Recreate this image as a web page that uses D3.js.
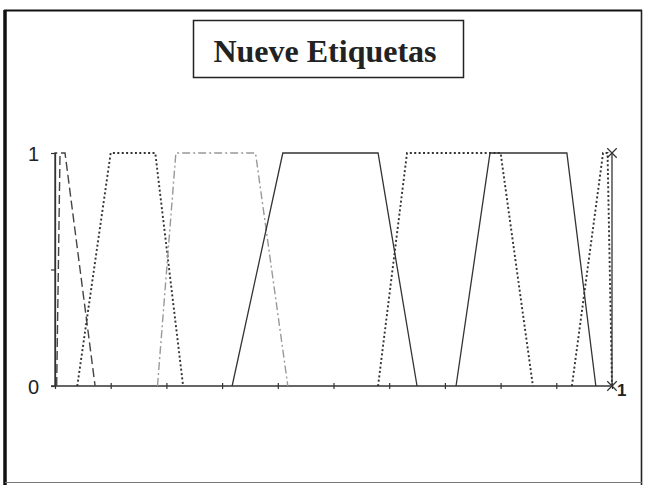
<!DOCTYPE html>
<html>
<head>
<meta charset="utf-8">
<script src="https://cdn.jsdelivr.net/npm/d3@7"></script>
<style>
  html, body { margin: 0; padding: 0; background: #fff; }
  svg { display: block; }
</style>
</head>
<body>
<svg id="chart" width="650" height="485"></svg>
<script>
// ---- data ----
const title = "Nueve Etiquetas";
const yTickValues = [0, 0.5, 1];
const yTickLabels = ["0", "", "1"];
const xTickValues = [0, 0.1, 0.2, 0.3, 0.4, 0.5, 0.6, 0.7, 0.8, 0.9, 1];
const endLabel = "1";

// nine trapezoidal membership functions: [x, membership]
const etiqueta1 = [[0, 0], [0, 1], [0.004, 1]];
const etiqueta2 = [[0.003, 0], [0.009, 1], [0.018, 1], [0.072, 0]];
const etiqueta3 = [[0.04, 0], [0.1, 1], [0.18, 1], [0.23, 0]];
const etiqueta4 = [[0.184, 0], [0.217, 1], [0.36, 1], [0.418, 0]];
const etiqueta5 = [[0.318, 0], [0.409, 1], [0.58, 1], [0.65, 0]];
const etiqueta6 = [[0.58, 0], [0.632, 1], [0.8, 1], [0.858, 0]];
const etiqueta7 = [[0.72, 0], [0.781, 1], [0.919, 1], [0.971, 0]];
const etiqueta8 = [[0.928, 0], [0.984, 1], [0.992, 1], [1, 0]];
const etiqueta9 = [[1, 0], [1, 1]];

const series = [etiqueta1, etiqueta2, etiqueta3, etiqueta4, etiqueta5,
                etiqueta6, etiqueta7, etiqueta8, etiqueta9];

// ---- styles ----
const styles = [
  { stroke: "#333", width: 1.3, dash: null },
  { stroke: "#444", width: 1.4, dash: "9,4" },
  { stroke: "#333", width: 1.9, dash: "2,2.4" },
  { stroke: "#999", width: 1.4, dash: "8,3,2,3" },
  { stroke: "#333", width: 1.3, dash: null },
  { stroke: "#333", width: 1.9, dash: "2,2.4" },
  { stroke: "#333", width: 1.3, dash: null },
  { stroke: "#333", width: 1.9, dash: "2,2.4" },
  { stroke: "#333", width: 1.3, dash: null }
];

const svg = d3.select("#chart");

// outer frame
svg.append("line").attr("x1", 5).attr("x2", 5).attr("y1", 10).attr("y2", 485)
  .attr("stroke", "#111").attr("stroke-width", 3.5);
svg.append("line").attr("x1", 4).attr("x2", 642).attr("y1", 10.5).attr("y2", 10.5)
  .attr("stroke", "#111").attr("stroke-width", 2.2);
svg.append("line").attr("x1", 641.5).attr("x2", 641.5).attr("y1", 10).attr("y2", 485)
  .attr("stroke", "#222").attr("stroke-width", 1.6);
svg.append("line").attr("x1", 5).attr("x2", 642).attr("y1", 482.5).attr("y2", 482.5)
  .attr("stroke", "#777").attr("stroke-width", 1);

// title box
svg.append("rect").attr("x", 193.5).attr("y", 20.5).attr("width", 270).attr("height", 57)
  .attr("fill", "#fff").attr("stroke", "#222").attr("stroke-width", 1.5);
svg.append("text").attr("x", 325).attr("y", 62)
  .attr("text-anchor", "middle")
  .style("font-family", "'Liberation Serif', 'Times New Roman', serif")
  .style("font-weight", "bold").style("font-size", "32px").attr("fill", "#222")
  .text(title);

// scales
const x = d3.scaleLinear().domain([0, 1]).range([55, 612]);
const y = d3.scaleLinear().domain([0, 1]).range([386, 153]);

// x axis
const gx = svg.append("g").attr("transform", `translate(0,${y(0)})`)
  .call(d3.axisBottom(x).tickValues(xTickValues).tickSize(3).tickSizeOuter(0).tickFormat(""));
gx.select(".domain").attr("stroke", "#333").attr("stroke-width", 1.3)
  .attr("d", `M${x(0) - 4},0H${x(1)}`);
gx.selectAll(".tick line").attr("y1", -3).attr("y2", 3).attr("stroke", "#333").attr("stroke-width", 1.2);

// y axis
const gy = svg.append("g").attr("transform", `translate(${x(0)},0)`)
  .call(d3.axisLeft(y).tickValues(yTickValues).tickSize(4).tickSizeOuter(0)
    .tickFormat((d, i) => yTickLabels[i]));
gy.select(".domain").attr("stroke", "#333").attr("stroke-width", 1.3);
gy.selectAll(".tick line").attr("stroke", "#333").attr("stroke-width", 1.2);
gy.selectAll(".tick text").attr("x", -16).attr("dy", "0.36em")
  .style("font-family", "'Liberation Sans', Arial, sans-serif")
  .style("font-size", "20px").attr("fill", "#222");

// series
const line = d3.line().x(d => x(d[0])).y(d => y(d[1]));
svg.append("g").selectAll("path").data(series).join("path")
  .attr("d", line)
  .attr("fill", "none")
  .attr("stroke", (d, i) => styles[i].stroke)
  .attr("stroke-width", (d, i) => styles[i].width)
  .attr("stroke-dasharray", (d, i) => styles[i].dash)
  .attr("stroke-linejoin", "miter");

// x markers on last series
const sym = d3.symbol().type(d3.symbolX).size(60);
svg.append("g").selectAll("path").data(etiqueta9).join("path")
  .attr("transform", d => `translate(${x(d[0])},${y(d[1])})`)
  .attr("d", sym)
  .attr("fill", "none").attr("stroke", "#333").attr("stroke-width", 1.2);

// end label
svg.append("text").attr("x", x(1) + 5).attr("y", y(0) + 10)
  .style("font-family", "'Liberation Sans', Arial, sans-serif")
  .style("font-weight", "bold").style("font-size", "17px").attr("fill", "#222")
  .text(endLabel);
</script>
</body>
</html>
